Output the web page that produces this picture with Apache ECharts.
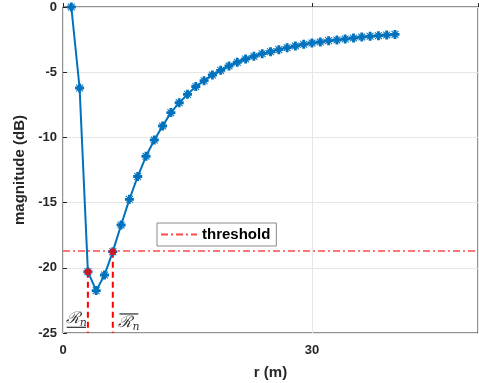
<!DOCTYPE html>
<html><head><meta charset="utf-8">
<script src="https://cdn.jsdelivr.net/npm/echarts@6/dist/echarts.min.js"></script>
<style>html,body{margin:0;padding:0;background:#fff}#c{width:479px;height:383px}</style>
</head><body><div id="c"></div>
<script>
const r = [1,2,3,4,5,6,7,8,9,10,11,12,13,14,15,16,17,18,19,20,21,22,23,24,25,26,27,28,29,30,31,32,33,34,35,36,37,38,39,40];
const mag = [0,-6.21,-20.3,-21.75,-20.55,-18.76,-16.72,-14.75,-13.0,-11.45,-10.2,-9.13,-8.1,-7.34,-6.7,-6.1,-5.65,-5.21,-4.86,-4.52,-4.24,-3.99,-3.78,-3.58,-3.43,-3.27,-3.12,-2.99,-2.86,-2.76,-2.68,-2.58,-2.53,-2.45,-2.38,-2.3,-2.25,-2.2,-2.15,-2.1];
const threshold = -18.71;
const lowIdx = 2, highIdx = 5;
const xTicks = [0, 30];
const yTicks = [-25,-20,-15,-10,-5,0];
const xMin = 0, xMax = 50, yMin = -25, yMax = 0;

const ast = 'path://M3.4,0H6.6V2.6L8.4,0.8L9.2,1.6L7.4,3.4H10V6.6H7.4L9.2,8.4L8.4,9.2L6.6,7.4V10H3.4V7.4L1.6,9.2L0.8,8.4L2.6,6.6H0V3.4H2.6L0.8,1.6L1.6,0.8L3.4,2.6Z';
const blue = '#0072BD';
const font = 'Liberation Sans, Arial, Helvetica, sans-serif';

const chart = echarts.init(document.getElementById('c'));
chart.setOption({
  animation: false,
  grid: {left: 63, right: 1, top: 7, bottom: 50, show: true, borderColor: '#262626', borderWidth: 1, backgroundColor: '#fff',
    containLabel: false, outerBoundsMode: 'none'},
  xAxis: {type: 'value', min: xMin, max: xMax, interval: 30,
    name: 'r (m)', nameLocation: 'middle', nameGap: 32,
    nameTextStyle: {fontFamily: font, fontWeight: 'bold', fontSize: 15, color: '#262626'},
    axisLine: {show: false}, axisTick: {show: true, inside: true, length: 4, lineStyle: {color: '#262626'}},
    axisLabel: {fontFamily: font, fontWeight: 'bold', fontSize: 13, color: '#262626', margin: 11,
      formatter: v => xTicks.indexOf(v) >= 0 ? String(v) : ''},
    splitLine: {show: true, lineStyle: {color: '#e6e6e6'}}},
  yAxis: {type: 'value', min: yMin, max: yMax, interval: 5,
    name: 'magnitude (dB)', nameLocation: 'middle', nameGap: 36,
    nameTextStyle: {fontFamily: font, fontWeight: 'bold', fontSize: 15, color: '#262626'},
    axisLine: {show: false}, axisTick: {show: true, inside: true, length: 4, lineStyle: {color: '#262626'}},
    axisLabel: {fontFamily: font, fontWeight: 'bold', fontSize: 13, color: '#262626', margin: 6,
      formatter: v => yTicks.indexOf(v) >= 0 ? String(v) : ''},
    splitLine: {show: true, lineStyle: {color: '#e6e6e6'}}},
  legend: {data: ['threshold'], left: 157, top: 223, orient: 'horizontal',
    padding: [4, 6, 4, 3], itemWidth: 36, itemHeight: 12, itemGap: 4,
    itemStyle: {opacity: 0},
    borderColor: '#8a8a8a', borderWidth: 1, backgroundColor: '#fff',
    textStyle: {fontFamily: font, fontWeight: 'bold', fontSize: 15, color: '#000'}},
  series: [
    {name: 'threshold', type: 'line', symbol: 'none', z: 1,
      data: [[xMin, threshold], [xMax, threshold]],
      lineStyle: {color: '#ff4a4a', width: 1.5, type: [7, 3, 2, 3]}},
    {name: 'mag', type: 'line', data: r.map((v, i) => [v, mag[i]]), z: 3,
      symbol: ast, symbolSize: 9, showAllSymbol: true,
      lineStyle: {color: blue, width: 2}, itemStyle: {color: blue}},
    {name: 'vlow', type: 'line', symbol: 'none', z: 2,
      data: [[r[lowIdx], mag[lowIdx]], [r[lowIdx], yMin]],
      lineStyle: {color: '#ff0000', width: 2, type: [6, 4]}},
    {name: 'vhigh', type: 'line', symbol: 'none', z: 2,
      data: [[r[highIdx], mag[highIdx]], [r[highIdx], yMin]],
      lineStyle: {color: '#ff0000', width: 2, type: [6, 4]}},
    {name: 'pts', type: 'scatter', z: 4, symbol: 'circle', symbolSize: 7,
      data: [[r[lowIdx], mag[lowIdx]], [r[highIdx], mag[highIdx]]],
      itemStyle: {color: '#ff0000'}},
    {name: 'labels', type: 'scatter', z: 5, symbolSize: 0, silent: true,
      data: [
        {value: [1.6, -23.9], label: {formatter: '{r|ℛ}{n|n}'}},
        {value: [7.95, -24.25], label: {formatter: '{r|ℛ}{n|n}'}}
      ],
      label: {show: true, position: 'inside',
        rich: {r: {fontFamily: 'DejaVu Serif', fontSize: 16, color: '#000', fontStyle: 'italic'},
               n: {fontFamily: 'DejaVu Serif', fontSize: 11, color: '#000', fontStyle: 'italic', verticalAlign: 'bottom', padding: [8, 0, 0, 0]}}}},
    {name: 'ul', type: 'line', symbol: 'none', z: 5, silent: true,
      data: [[0.45, -24.56], [2.77, -24.56]], lineStyle: {color: '#000', width: 1}},
    {name: 'ol', type: 'line', symbol: 'none', z: 5, silent: true,
      data: [[6.8, -23.54], [9.07, -23.54]], lineStyle: {color: '#000', width: 1}}
  ]
});
</script></body></html>
